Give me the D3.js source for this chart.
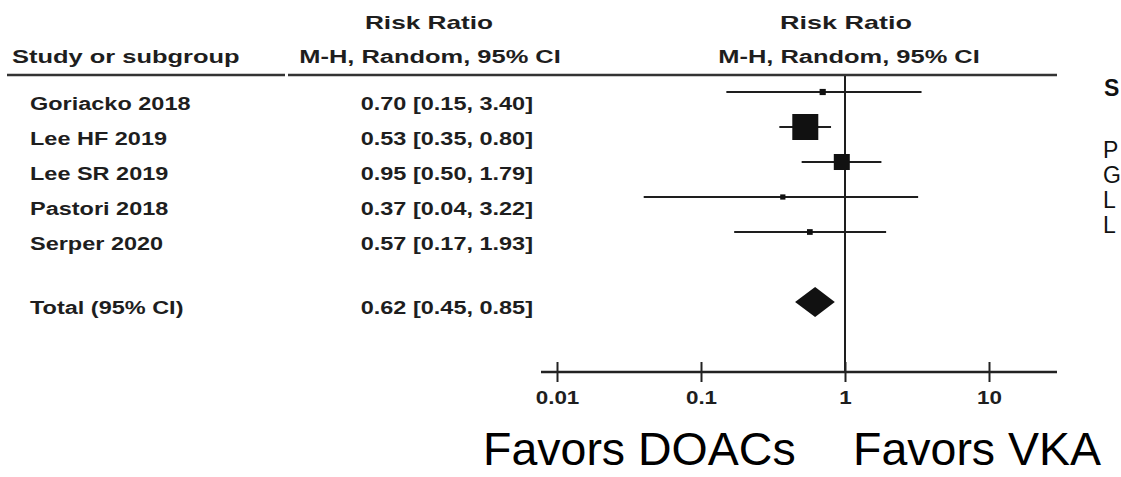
<!DOCTYPE html>
<html>
<head>
<meta charset="utf-8">
<script src="https://cdn.jsdelivr.net/npm/d3@7/dist/d3.min.js"></script>
<style>
  body { margin: 0; background: #fff; }
  svg { display: block; font-family: 'Liberation Sans', Arial, sans-serif; }
</style>
</head>
<body>
<svg id="container"></svg>
<script>
// study rows
const studies = ['Goriacko 2018', 'Lee HF 2019', 'Lee SR 2019', 'Pastori 2018', 'Serper 2020'];
const riskRatio = [0.70, 0.53, 0.95, 0.37, 0.57];
const lowerCI = [0.15, 0.35, 0.50, 0.04, 0.17];
const upperCI = [3.40, 0.80, 1.79, 3.22, 1.93];
const weights = [3.5, 62, 23.5, 2.5, 3];

// pooled estimate
const totalLabel = 'Total (95% CI)';
const totalRR = 0.62;
const totalLower = 0.45;
const totalUpper = 0.85;

const tickValues = [0.01, 0.1, 1, 10];
const favorsLabels = ['Favors DOACs', 'Favors VKA'];
const sideHeader = 'S';
const sideLetters = ['P', 'G', 'L', 'L'];

const W = 1121, H = 477;
const svg = d3.select('#container').attr('width', W).attr('height', H);

const ink = '#1e1e1e';

const x = d3.scaleLog().domain([0.01, 10]).range([557, 989]);
const y = d3.scaleLinear().domain([0, 6]).range([92, 302]);
const boxSize = d3.scaleSqrt().domain([0, d3.max(weights)]).range([0, 26]);

function fmt(v) { return d3.format('.2f')(v); }
function ciText(r, l, u) { return fmt(r) + ' [' + fmt(l) + ', ' + fmt(u) + ']'; }

// the original table text is horizontally stretched
function stretchedText(g, tx, ty, str, anchor, size, sx) {
  g.append('text')
    .attr('transform', 'translate(' + tx + ',' + ty + ') scale(' + sx + ',1)')
    .attr('text-anchor', anchor)
    .attr('dominant-baseline', 'central')
    .attr('font-size', size)
    .attr('font-weight', 'bold')
    .attr('fill', ink)
    .text(str);
}

// headers
const head = svg.append('g');
stretchedText(head, 429, 22, 'Risk Ratio', 'middle', 19, 1.38);
stretchedText(head, 430, 57, 'M-H, Random, 95% CI', 'middle', 19, 1.34);
stretchedText(head, x(1) + 1, 22, 'Risk Ratio', 'middle', 19, 1.42);
stretchedText(head, x(1) + 4, 57, 'M-H, Random, 95% CI', 'middle', 19, 1.34);
stretchedText(head, 12, 57, 'Study or subgroup', 'start', 19, 1.34);

head.append('line')
  .attr('x1', 7).attr('x2', 285).attr('y1', 75).attr('y2', 75)
  .attr('stroke', '#333').attr('stroke-width', 2.5);
head.append('line')
  .attr('x1', 288).attr('x2', 1057).attr('y1', 75).attr('y2', 75)
  .attr('stroke', '#333').attr('stroke-width', 2.5);

// table text
const table = svg.append('g');
studies.forEach((s, i) => {
  stretchedText(table, 30, y(i) + 11.5, s, 'start', 18.5, 1.27);
  stretchedText(table, 533, y(i) + 11.5, ciText(riskRatio[i], lowerCI[i], upperCI[i]), 'end', 18.5, 1.27);
});
stretchedText(table, 30, y(6) + 5, totalLabel, 'start', 18.5, 1.27);
stretchedText(table, 533, y(6) + 5, ciText(totalRR, totalLower, totalUpper), 'end', 18.5, 1.27);

// line of no effect
svg.append('line')
  .attr('x1', x(1)).attr('x2', x(1))
  .attr('y1', 76).attr('y2', 372)
  .attr('stroke', ink).attr('stroke-width', 2);

// confidence intervals and boxes
const plot = svg.append('g');
plot.selectAll('.ci')
  .data(studies)
  .enter()
  .append('line')
  .attr('class', 'ci')
  .attr('x1', (d, i) => x(lowerCI[i]))
  .attr('x2', (d, i) => x(upperCI[i]))
  .attr('y1', (d, i) => y(i))
  .attr('y2', (d, i) => y(i))
  .attr('stroke', ink)
  .attr('stroke-width', 2);

plot.selectAll('.box')
  .data(studies)
  .enter()
  .append('rect')
  .attr('class', 'box')
  .attr('x', (d, i) => x(riskRatio[i]) - boxSize(weights[i]) / 2)
  .attr('y', (d, i) => y(i) - boxSize(weights[i]) / 2)
  .attr('width', (d, i) => boxSize(weights[i]))
  .attr('height', (d, i) => boxSize(weights[i]))
  .attr('fill', '#111');

// pooled diamond
const dy = y(6);
plot.append('path')
  .attr('d', 'M' + x(totalLower) + ',' + dy +
    'L' + x(totalRR) + ',' + (dy - 15) +
    'L' + x(totalUpper) + ',' + dy +
    'L' + x(totalRR) + ',' + (dy + 15) + 'Z')
  .attr('fill', '#111');

// axis
const axisY = 372;
const xAxis = d3.axisBottom(x)
  .tickValues(tickValues)
  .tickFormat((d) => String(d))
  .tickSize(10)
  .tickPadding(12);
const gX = svg.append('g')
  .attr('transform', 'translate(0,' + axisY + ')')
  .call(xAxis);
gX.select('.domain').remove();
gX.insert('line', ':first-child')
  .attr('x1', 541).attr('x2', 1057)
  .attr('stroke', '#222').attr('stroke-width', 2.5);
gX.selectAll('.tick line')
  .attr('y1', -10).attr('y2', 10)
  .attr('stroke', '#222').attr('stroke-width', 2);
gX.selectAll('.tick text')
  .attr('font-family', "'Liberation Sans', Arial, sans-serif")
  .attr('font-size', 19)
  .attr('font-weight', 'bold')
  .attr('fill', ink)
  .attr('transform', 'scale(1.18,1)')
  .attr('dy', '0.55em');

// favors labels
svg.append('text')
  .attr('x', 483).attr('y', 465)
  .attr('font-size', 46.5)
  .attr('fill', '#000')
  .text(favorsLabels[0]);
svg.append('text')
  .attr('x', 853).attr('y', 465)
  .attr('font-size', 46.5)
  .attr('fill', '#000')
  .text(favorsLabels[1]);

// neighbouring panel, cut off at the right edge
svg.append('text')
  .attr('x', 1104).attr('y', 96)
  .attr('font-size', 23)
  .attr('font-weight', 'bold')
  .attr('fill', '#111')
  .text(sideHeader);
svg.selectAll('.side')
  .data(sideLetters)
  .enter()
  .append('text')
  .attr('class', 'side')
  .attr('x', 1103)
  .attr('y', (d, i) => 158 + i * 25)
  .attr('font-size', 23)
  .attr('fill', '#111')
  .text((d) => d);
</script>
</body>
</html>
